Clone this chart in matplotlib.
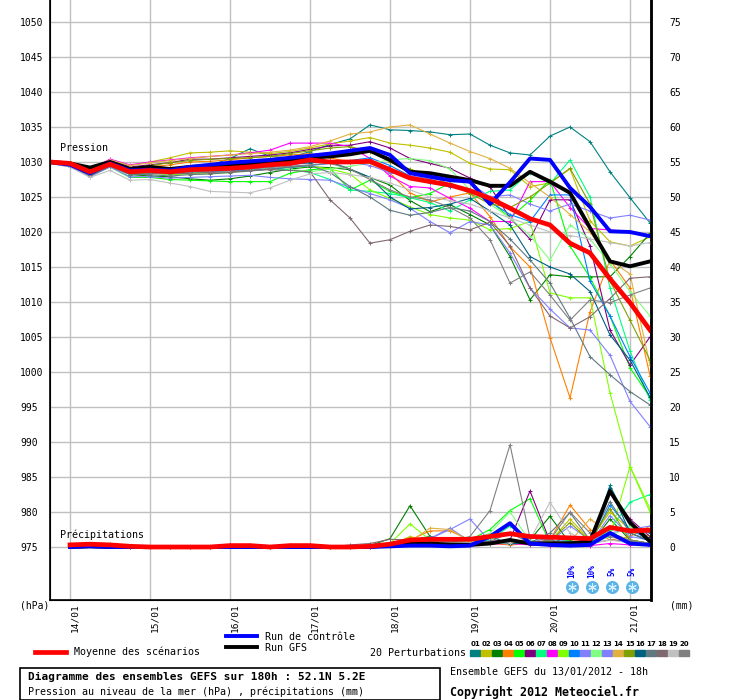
import matplotlib
matplotlib.use("Agg")
import matplotlib.pyplot as plt
from matplotlib.patches import Rectangle
import matplotlib.transforms as mtransforms

plt.rcParams['font.family'] = ['DejaVu Sans Mono']

# time axis: hours after 13/01/2012 18h
hours = list(range(0, 181, 6))
precip_hours = hours[1:]
date_hours = [6, 30, 54, 78, 102, 126, 150, 174]
date_labels = ["14/01", "15/01", "16/01", "17/01", "18/01", "19/01", "20/01", "21/01"]

# sea level pressure (hPa)
mean_p = [1030.0, 1029.8, 1028.6, 1029.7, 1028.6, 1028.8, 1028.6, 1028.9, 1029.0, 1029.1, 1029.3,
          1029.6, 1029.8, 1030.3, 1030.0, 1030.0, 1030.1, 1028.9, 1027.7, 1027.2, 1026.7, 1025.9,
          1024.8, 1023.4, 1021.9, 1021.0, 1018.4, 1017.0, 1013.3, 1009.9, 1006.0]
ctrl_p = [1030.0, 1029.6, 1028.4, 1029.8, 1028.8, 1028.9, 1028.8, 1029.3, 1029.6, 1029.9, 1030.1,
          1030.3, 1030.6, 1030.9, 1031.2, 1031.6, 1032.0, 1031.0, 1028.4, 1027.9, 1027.4, 1027.2,
          1024.0, 1027.1, 1030.5, 1030.3, 1026.3, 1023.6, 1020.1, 1020.0, 1019.4]
gfs_p = [1030.0, 1029.8, 1029.2, 1030.0, 1029.0, 1029.3, 1029.0, 1029.3, 1029.4, 1029.6, 1029.8,
         1030.0, 1030.3, 1030.6, 1030.8, 1031.1, 1031.6, 1030.3, 1028.6, 1028.4, 1027.9, 1027.4,
         1026.6, 1026.6, 1028.6, 1027.2, 1025.6, 1020.6, 1015.8, 1015.1, 1015.8]

p01 = [1029.8, 1029.5, 1028.2, 1029.6, 1028.4, 1028.6, 1028.7, 1029.0, 1029.5, 1030.5, 1031.9, 1030.8, 1030.6, 1031.5, 1032.5, 1033.3, 1035.3, 1034.6, 1034.5, 1034.3, 1033.9, 1034.0, 1032.4, 1031.3, 1031.0, 1033.7, 1035.0, 1032.9, 1028.6, 1024.9, 1021.3]
p02 = [1030.0, 1029.7, 1028.8, 1030.2, 1029.5, 1030.0, 1030.6, 1031.3, 1031.4, 1031.6, 1031.4, 1031.2, 1031.5, 1032.0, 1032.6, 1033.0, 1033.5, 1032.7, 1032.4, 1032.0, 1031.4, 1029.8, 1029.0, 1028.9, 1026.5, 1027.0, 1029.0, 1021.6, 1018.6, 1018.0, 1019.3]
p03 = [1030.1, 1029.6, 1028.3, 1029.5, 1028.2, 1028.0, 1027.9, 1027.6, 1027.4, 1027.6, 1028.0, 1028.5, 1029.0, 1029.3, 1029.2, 1028.9, 1027.8, 1026.7, 1024.5, 1022.9, 1023.9, 1022.5, 1021.0, 1016.5, 1010.3, 1013.9, 1013.6, 1013.6, 1013.6, 1016.5, 1019.8]
p04 = [1030.2, 1029.8, 1028.6, 1030.0, 1029.0, 1029.3, 1029.6, 1030.0, 1030.1, 1030.3, 1030.6, 1030.8, 1031.0, 1031.2, 1030.6, 1030.0, 1029.8, 1028.4, 1025.6, 1024.3, 1025.0, 1025.6, 1022.2, 1017.9, 1015.0, 1004.9, 996.3, 1008.6, 1016.0, 1012.0, 999.5]
p05 = [1029.9, 1029.4, 1028.0, 1029.3, 1027.8, 1027.8, 1027.5, 1027.4, 1027.3, 1027.2, 1027.2, 1027.2, 1028.4, 1028.9, 1029.1, 1026.0, 1027.4, 1025.8, 1024.9, 1025.5, 1027.0, 1025.8, 1024.5, 1022.0, 1024.5, 1027.5, 1018.0, 1013.5, 1008.0, 1000.6, 996.4]
p06 = [1030.0, 1029.6, 1028.7, 1030.2, 1029.3, 1029.6, 1029.9, 1030.4, 1030.4, 1030.6, 1030.8, 1031.0, 1031.3, 1031.8, 1032.3, 1032.4, 1032.9, 1032.0, 1030.5, 1029.8, 1029.1, 1027.7, 1026.5, 1022.0, 1019.0, 1024.6, 1024.6, 1018.0, 1006.0, 1001.0, 1005.0]
p07 = [1029.9, 1029.5, 1028.2, 1029.6, 1028.3, 1028.4, 1028.3, 1028.4, 1028.6, 1028.8, 1028.9, 1029.0, 1028.9, 1028.5, 1027.5, 1026.0, 1025.8, 1025.5, 1024.9, 1024.2, 1023.0, 1024.6, 1025.8, 1026.0, 1028.5, 1026.9, 1030.3, 1025.0, 1012.0, 1003.0, 996.0]
p08 = [1030.2, 1029.9, 1029.0, 1030.4, 1029.6, 1030.0, 1030.3, 1030.6, 1030.8, 1031.0, 1031.3, 1031.7, 1032.7, 1032.7, 1032.7, 1032.2, 1030.5, 1028.0, 1026.5, 1026.3, 1024.8, 1023.4, 1021.5, 1021.5, 1027.2, 1027.2, 1023.5, 1020.5, 1020.3, 1020.0, 1019.6]
p09 = [1029.8, 1029.4, 1028.0, 1029.5, 1028.3, 1028.4, 1028.2, 1028.3, 1028.3, 1028.5, 1028.8, 1029.0, 1029.2, 1029.4, 1029.0, 1028.3, 1026.0, 1024.8, 1023.6, 1022.5, 1022.0, 1021.7, 1020.3, 1020.5, 1021.5, 1011.3, 1010.6, 1010.6, 997.0, 986.5, 980.5]
p10 = [1030.0, 1029.6, 1028.4, 1029.8, 1028.7, 1028.8, 1028.6, 1028.8, 1028.6, 1028.8, 1028.8, 1029.0, 1029.2, 1029.5, 1029.8, 1030.2, 1030.6, 1029.5, 1028.0, 1027.0, 1026.5, 1026.0, 1024.3, 1022.5, 1021.5, 1025.3, 1025.3, 1013.0, 1008.0, 1002.2, 997.0]
p11 = [1029.8, 1029.3, 1027.9, 1029.3, 1027.9, 1027.9, 1027.7, 1027.8, 1027.9, 1028.0, 1028.1, 1027.8, 1027.6, 1027.5, 1027.4, 1026.4, 1025.5, 1024.6, 1023.4, 1021.5, 1019.9, 1021.5, 1021.0, 1017.0, 1012.0, 1009.0, 1006.3, 1006.0, 1002.4, 995.8, 992.2]
p12 = [1030.1, 1029.7, 1028.5, 1029.9, 1028.8, 1028.9, 1028.8, 1029.0, 1029.1, 1029.3, 1029.5, 1029.6, 1029.0, 1028.6, 1029.0, 1029.4, 1029.8, 1030.3, 1030.5, 1030.2, 1029.0, 1026.0, 1024.0, 1022.0, 1019.5, 1016.0, 1021.0, 1019.0, 1015.5, 1011.5, 1008.0]
p13 = [1029.9, 1029.5, 1028.3, 1029.7, 1028.5, 1028.6, 1028.4, 1028.6, 1028.8, 1029.0, 1029.1, 1029.3, 1029.6, 1029.9, 1030.2, 1030.0, 1029.5, 1028.5, 1028.0, 1027.6, 1027.4, 1027.0, 1025.0, 1025.3, 1024.0, 1023.0, 1024.0, 1023.0, 1022.0, 1022.4, 1021.7]
p14 = [1030.2, 1029.9, 1028.8, 1030.3, 1029.5, 1029.9, 1030.2, 1030.5, 1030.8, 1031.0, 1031.2, 1031.4, 1031.7, 1032.2, 1033.0, 1034.0, 1034.3, 1035.0, 1035.3, 1034.0, 1032.7, 1031.5, 1030.5, 1029.1, 1027.0, 1025.0, 1022.5, 1020.0, 1016.0, 1014.0, 1001.0]
p15 = [1030.1, 1029.7, 1028.6, 1030.0, 1029.1, 1029.5, 1029.9, 1030.2, 1030.4, 1030.5, 1030.6, 1030.8, 1031.2, 1031.6, 1032.0, 1032.2, 1031.5, 1030.0, 1029.0, 1028.0, 1026.8, 1025.5, 1024.0, 1023.5, 1025.0, 1027.0, 1029.1, 1024.0, 1013.0, 1007.4, 1001.7]
p16 = [1029.8, 1029.4, 1028.1, 1029.5, 1028.4, 1028.5, 1028.4, 1028.6, 1028.8, 1029.0, 1029.2, 1029.4, 1029.7, 1029.9, 1030.0, 1029.0, 1027.8, 1025.0, 1023.3, 1023.5, 1024.0, 1024.8, 1023.0, 1021.0, 1016.5, 1015.0, 1014.0, 1011.5, 1005.3, 1001.7, 996.4]
p17 = [1029.9, 1029.4, 1028.0, 1029.4, 1028.2, 1028.2, 1028.0, 1028.2, 1028.3, 1028.5, 1028.7, 1029.0, 1029.3, 1029.5, 1028.5, 1026.5, 1025.0, 1023.1, 1022.4, 1022.8, 1023.5, 1023.0, 1021.5, 1019.0, 1016.0, 1012.7, 1007.7, 1002.2, 999.6, 997.2, 995.3]
p18 = [1029.9, 1029.5, 1028.2, 1029.6, 1028.4, 1028.4, 1028.3, 1028.4, 1028.5, 1028.6, 1028.8, 1028.9, 1028.8, 1028.6, 1024.6, 1022.0, 1018.4, 1018.9, 1020.1, 1021.0, 1020.8, 1020.3, 1021.4, 1018.0, 1012.0, 1008.0, 1006.3, 1007.9, 1010.5, 1013.4, 1013.6]
p19 = [1029.8, 1029.3, 1027.8, 1028.8, 1027.4, 1027.5, 1027.0, 1026.5, 1025.8, 1025.7, 1025.6, 1026.3, 1027.4, 1028.3, 1028.5, 1028.2, 1027.8, 1027.0, 1026.0, 1025.0, 1024.5, 1024.0, 1023.0, 1022.0, 1021.0, 1020.0, 1019.5, 1019.0, 1018.5, 1018.0, 1018.5]
p20 = [1030.0, 1029.6, 1028.4, 1029.7, 1028.5, 1028.6, 1028.5, 1028.6, 1028.7, 1028.8, 1029.0, 1029.2, 1029.4, 1029.6, 1029.8, 1029.0, 1027.5, 1026.0, 1025.0, 1024.6, 1023.5, 1022.0, 1018.9, 1012.7, 1014.3, 1011.0, 1007.4, 1010.3, 1009.9, 1011.0, 1012.0]

# 6-hourly precipitation (mm)
mean_r = [0.3, 0.4, 0.3, 0.1, 0, 0, 0, 0, 0.2, 0.2, 0, 0.2, 0.2, 0, 0, 0.1,
          0.4, 1.0, 1.1, 1.1, 1.1, 1.5, 1.9, 1.5, 1.4, 1.3, 1.2, 2.8, 2.3, 2.4]
ctrl_r = [0, 0.1, 0, 0, 0, 0, 0, 0, 0, 0, 0, 0, 0, 0, 0, 0,
          0.1, 0.2, 0.2, 0.1, 0.2, 1.5, 3.4, 0.5, 0.3, 0.2, 0.3, 2.0, 0.5, 0.3]
gfs_r = [0, 0.1, 0, 0, 0, 0, 0, 0, 0, 0, 0, 0, 0, 0, 0, 0,
         0.3, 0.5, 0.5, 0.3, 0.3, 0.5, 1.0, 0.5, 0.5, 0.5, 0.8, 8.0, 3.5, 0.8]

r01 = [0.3, 0.5, 0.3, 0, 0, 0, 0, 0, 0.2, 0.2, 0, 0.2, 0.2, 0, 0, 0.1, 0.5, 1.0, 1.5, 1.0, 0.8, 1.5, 0.5, 0.8, 0.5, 1.5, 0.5, 8.8, 3.0, 2.0]
r02 = [0.2, 0.4, 0.3, 0.1, 0, 0, 0, 0, 0.3, 0.2, 0, 0.1, 0.3, 0, 0, 0, 0.2, 1.5, 0.8, 1.2, 1.0, 0.8, 0.5, 0.5, 0.8, 4.0, 1.0, 5.0, 2.5, 1.5]
r03 = [0.3, 0.3, 0.2, 0, 0, 0, 0, 0, 0.2, 0.3, 0, 0.2, 0.2, 0, 0, 0.2, 1.2, 5.9, 1.5, 1.0, 0.8, 0.5, 0.8, 1.0, 4.4, 0.5, 0.3, 4.0, 1.0, 0.5]
r04 = [0.4, 0.5, 0.3, 0.1, 0, 0, 0, 0, 0.1, 0.2, 0, 0.3, 0.2, 0, 0, 0, 0.3, 1.0, 2.3, 2.3, 1.0, 0.5, 0.3, 0.5, 1.0, 6.0, 2.5, 1.0, 1.5, 3.0]
r05 = [0.3, 0.4, 0.4, 0, 0, 0, 0, 0, 0.2, 0.1, 0, 0.2, 0.1, 0, 0, 0, 0.2, 1.0, 0.8, 0.5, 1.0, 2.5, 5.2, 6.9, 0.5, 1.0, 1.2, 2.0, 1.0, 0.5]
r06 = [0.2, 0.3, 0.3, 0, 0, 0, 0, 0, 0.3, 0.2, 0, 0.2, 0.2, 0, 0, 0, 0.3, 0.8, 0.6, 0.8, 0.5, 0.8, 1.0, 8.0, 0.8, 0.5, 1.0, 7.8, 4.0, 1.5]
r07 = [0.3, 0.4, 0.3, 0.1, 0, 0, 0, 0, 0.2, 0.2, 0, 0.1, 0.2, 0, 0, 0.1, 0.4, 0.8, 1.0, 0.8, 0.6, 1.0, 3.0, 1.0, 0.5, 0.8, 0.5, 2.5, 6.4, 7.5]
r08 = [0.2, 0.4, 0.2, 0, 0, 0, 0, 0, 0.2, 0.2, 0, 0.2, 0.3, 0, 0, 0, 0.2, 0.5, 0.4, 0.5, 0.3, 0.4, 0.5, 0.3, 0.2, 0.3, 0.2, 0.5, 0.3, 0.2]
r09 = [0.3, 0.5, 0.3, 0, 0, 0, 0, 0, 0.2, 0.3, 0, 0.2, 0.2, 0, 0, 0, 0.5, 3.3, 1.0, 0.8, 0.6, 0.5, 0.5, 0.8, 0.5, 0.8, 0.6, 1.5, 11.5, 5.0]
r10 = [0.3, 0.4, 0.3, 0, 0, 0, 0, 0, 0.1, 0.2, 0, 0.2, 0.2, 0, 0, 0, 0.3, 0.8, 0.6, 0.8, 0.6, 0.5, 1.0, 0.5, 0.6, 0.5, 0.5, 6.0, 2.5, 1.0]
r11 = [0.2, 0.4, 0.3, 0.1, 0, 0, 0, 0, 0.2, 0.2, 0, 0.2, 0.2, 0, 0, 0, 0.4, 1.0, 1.2, 2.5, 4.0, 0.8, 0.6, 0.5, 0.8, 3.0, 1.0, 2.0, 2.5, 3.0]
r12 = [0.3, 0.3, 0.3, 0, 0, 0, 0, 0, 0.2, 0.2, 0, 0.2, 0.2, 0, 0, 0, 0.3, 1.0, 0.8, 0.6, 0.8, 2.0, 5.0, 0.8, 0.5, 0.6, 0.5, 1.5, 3.0, 1.0]
r13 = [0.3, 0.4, 0.2, 0, 0, 0, 0, 0, 0.3, 0.2, 0, 0.2, 0.2, 0, 0, 0, 0.3, 0.8, 1.2, 2.7, 0.8, 0.6, 0.5, 0.5, 1.5, 0.6, 0.5, 4.5, 1.5, 1.0]
r14 = [0.3, 0.5, 0.3, 0.1, 0, 0, 0, 0, 0.2, 0.2, 0, 0.2, 0.2, 0, 0, 0, 0.3, 0.8, 2.7, 2.5, 0.8, 0.5, 0.5, 0.6, 0.5, 0.8, 4.0, 2.0, 1.0, 0.5]
r15 = [0.3, 0.4, 0.3, 0, 0, 0, 0, 0, 0.2, 0.2, 0, 0.2, 0.2, 0, 0, 0, 0.2, 0.6, 0.8, 0.6, 0.5, 0.5, 0.6, 0.5, 0.8, 3.5, 0.8, 5.5, 1.0, 0.5]
r16 = [0.2, 0.4, 0.3, 0, 0, 0, 0, 0, 0.2, 0.2, 0, 0.2, 0.2, 0, 0, 0, 0.3, 0.6, 0.8, 0.6, 0.5, 0.6, 0.5, 0.5, 0.6, 0.8, 0.6, 8.5, 2.0, 0.8]
r17 = [0.3, 0.4, 0.3, 0, 0, 0, 0, 0, 0.2, 0.2, 0, 0.2, 0.2, 0, 0, 0, 0.4, 0.8, 1.5, 0.8, 0.6, 0.5, 0.8, 0.6, 2.0, 4.9, 1.0, 6.5, 2.0, 1.0]
r18 = [0.3, 0.4, 0.3, 0, 0, 0, 0, 0, 0.2, 0.2, 0, 0.2, 0.2, 0, 0.3, 0.5, 1.1, 1.0, 0.8, 0.6, 0.5, 0.8, 2.0, 0.6, 1.0, 0.5, 0.5, 1.0, 0.8, 0.5]
r19 = [0.3, 0.4, 0.3, 0, 0, 0, 0, 0, 0.2, 0.2, 0, 0.2, 0.2, 0, 0, 0, 0.3, 0.6, 0.5, 0.5, 0.6, 0.5, 0.6, 1.0, 6.4, 2.0, 0.5, 1.0, 0.6, 0.5]
r20 = [0.3, 0.4, 0.3, 0, 0, 0, 0, 0, 0.2, 0.2, 0, 0.2, 0.2, 0, 0, 0, 0.3, 0.8, 0.8, 0.8, 1.5, 5.2, 14.6, 1.3, 1.0, 5.0, 2.0, 1.5, 1.0, 0.5]

member_colors = ["#008080", "#c0c000", "#008000", "#ff8000", "#00ff00", "#800080", "#00ff80",
                 "#ff00ff", "#80ff00", "#0080ff", "#8080ff", "#80ff80", "#8080ff", "#e0b040",
                 "#80a000", "#006080", "#607880", "#806870", "#c0c0c0", "#808080"]
member_p = [p01, p02, p03, p04, p05, p06, p07, p08, p09, p10,
            p11, p12, p13, p14, p15, p16, p17, p18, p19, p20]
member_r = [r01, r02, r03, r04, r05, r06, r07, r08, r09, r10,
            r11, r12, r13, r14, r15, r16, r17, r18, r19, r20]

snow_hours = [156, 162, 168, 174]
snow_labels = ["10%", "10%", "5%", "5%"]

W, H = 740, 700
fig = plt.figure(figsize=(W / 100, H / 100), dpi=100)
fig.patch.set_facecolor("white")


def fx(x):
    return x / W


def fy(y):
    return 1 - y / H


ax = fig.add_axes([fx(50), fy(600), 601 / W, 600 / H])
base = 975
ax.set_xlim(0, 180.3)
ax.set_ylim(base - 53 / 7, 1050 + 22 / 7)

# precipitation drawn on the same scale, shifted to 975
for col, r in zip(member_colors, member_r):
    ax.plot(precip_hours, [base + v for v in r], color=col, lw=0.8,
            marker="+", ms=3, mew=0.7, zorder=3)
for col, p in zip(member_colors, member_p):
    ax.plot(hours, p, color=col, lw=0.8, marker="+", ms=3, mew=0.7, zorder=3)

ax.plot(precip_hours, [base + v for v in gfs_r], color="black", lw=2.8, zorder=4)
ax.plot(precip_hours, [base + v for v in ctrl_r], color="#0000ff", lw=2.8, zorder=5)
ax.plot(precip_hours, [base + v for v in mean_r], color="#ff0000", lw=3.4, zorder=6)
ax.plot(hours, gfs_p, color="black", lw=2.8, zorder=4)
ax.plot(hours, ctrl_p, color="#0000ff", lw=2.8, zorder=5)
ax.plot(hours, mean_p, color="#ff0000", lw=3.4, zorder=6)

ax.set_yticks(list(range(975, 1051, 5)))
ax.set_xticks(date_hours)
ax.set_xticklabels(date_labels, rotation=90, ha="left", fontsize=6.8)
ax.tick_params(axis="y", length=0, pad=21.6, labelsize=7)
for lbl in ax.get_yticklabels():
    lbl.set_ha("left")
ax.tick_params(axis="x", length=0, pad=2.5)
ax.grid(True, color="#c0c0c0", lw=1.0, zorder=0)
ax.set_axisbelow(True)
for s in ["left", "bottom"]:
    ax.spines[s].set_linewidth(1.2)
ax.spines["right"].set_linewidth(1.8)
ax.spines["top"].set_visible(False)

ax2 = ax.twinx()
ax2.set_ylim(-53 / 7, 75 + 22 / 7)
ax2.set_yticks(list(range(0, 76, 5)))
ax2.tick_params(axis="y", length=0, pad=13, labelsize=7)
ax2.spines["top"].set_visible(False)
ax2.spines["right"].set_linewidth(1.8)

ax.text(3, 1032.0, "Pression", fontsize=7.2, va="center", ha="left")
ax.text(3, 976.7, "Précipitations", fontsize=7.2, va="center", ha="left")

# snow probability icons
trans = mtransforms.blended_transform_factory(ax.transData, ax.transAxes)
for h, lab in zip(snow_hours, snow_labels):
    ax.scatter([h + 0.5], [0.022], s=70, color="#5ab4e6", transform=trans, zorder=7, clip_on=False)
    ax.scatter([h + 0.5], [0.022], s=30, marker=(6, 2, 0), color="#d8f0ff", lw=0.8,
               transform=trans, zorder=8, clip_on=False)
    ax.text(h + 0.5, 0.048, lab, rotation=90, color="#0000ff", fontsize=5.5,
            fontweight="bold", ha="center", va="center", transform=trans, zorder=8)

fig.text(fx(20), fy(606), "(hPa)", fontsize=7, va="center", ha="left")
fig.text(fx(670), fy(606), "(mm)", fontsize=7, va="center", ha="left")

# legend area
fig.add_artist(plt.Line2D([fx(35), fx(66)], [fy(652), fy(652)], color="#ff0000", lw=3.4))
fig.text(fx(74), fy(652), "Moyenne des scénarios", fontsize=7.2, va="center")
fig.add_artist(plt.Line2D([fx(226), fx(257)], [fy(636), fy(636)], color="#0000ff", lw=2.8))
fig.text(fx(265), fy(637), "Run de contrôle", fontsize=7.2, va="center")
fig.add_artist(plt.Line2D([fx(226), fx(257)], [fy(647), fy(647)], color="black", lw=2.8))
fig.text(fx(265), fy(648), "Run GFS", fontsize=7.2, va="center")
fig.text(fx(466), fy(653), "20 Perturbations", fontsize=7.2, va="center", ha="right")
for i, col in enumerate(member_colors):
    x0 = 470 + i * 11
    fig.add_artist(Rectangle((fx(x0), fy(656)), 10 / W, 6 / H, color=col,
                             transform=fig.transFigure))
    fig.text(fx(x0 + 5.5), fy(644), "%02d" % (i + 1), fontsize=5, ha="center",
             va="center", family="DejaVu Sans", fontweight="bold")

fig.add_artist(Rectangle((fx(20), fy(700)), 420 / W, 32 / H, fill=False,
                         ec="black", lw=1.2, transform=fig.transFigure))
fig.text(fx(28), fy(677), "Diagramme des ensembles GEFS sur 180h : 52.1N 5.2E",
         fontsize=8, fontweight="bold", va="center")
fig.text(fx(28), fy(692), "Pression au niveau de la mer (hPa) , précipitations (mm)",
         fontsize=7.2, va="center")
fig.text(fx(450), fy(672), "Ensemble GEFS du 13/01/2012 - 18h", fontsize=7.2, va="center")
fig.text(fx(450), fy(692), "Copyright 2012 Meteociel.fr", fontsize=8.4,
         fontweight="bold", va="center")

fig.savefig("out.png", dpi=100)
